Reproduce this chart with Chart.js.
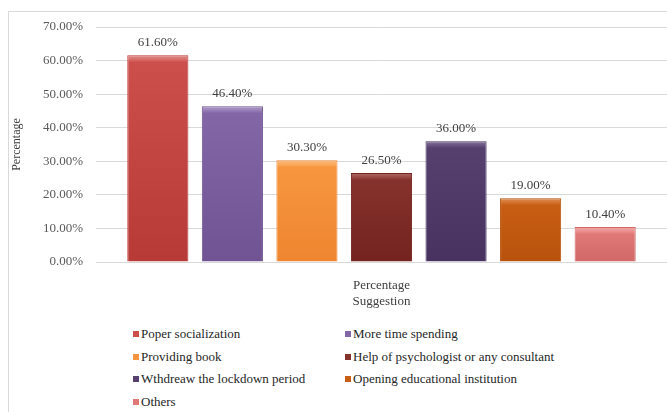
<!DOCTYPE html>
<html>
<head>
<meta charset="utf-8">
<script src="https://cdn.jsdelivr.net/npm/chart.js@4.4.1/dist/chart.umd.min.js"></script>
<style>
  body { margin: 0; background: #fff; }
  #wrap { position: relative; width: 667px; height: 412px; overflow: hidden; font-family: "Liberation Serif", "DejaVu Serif", "Noto Serif", serif; }
  #frame { position: absolute; left: 8px; top: 11px; width: 700px; height: 420px; border-left: 1px solid #d9d9d9; border-top: 1px solid #d9d9d9; }
  #chart { position: absolute; left: 0; top: 0; }
  #legend { position: absolute; left: 0; top: 326px; width: 667px; }
  .item { position: absolute; font-size: 13px; color: #262626; white-space: nowrap; line-height: 15px; }
  .item span.box { display: inline-block; width: 6px; height: 6px; margin-right: 2px; vertical-align: 1px; }
</style>
</head>
<body>
<div id="wrap">
  <div id="frame"></div>
  <canvas id="chart" width="667" height="310"></canvas>
  <div id="legend"></div>
</div>
<script>
// Suggestions and their share
const categories = ["Percentage"];
const suggestions = [
  "Poper socialization",
  "More time spending",
  "Providing book",
  "Help of psychologist or any consultant",
  "Wthdreaw the lockdown period",
  "Opening educational institution",
  "Others"
];
const values = [61.6, 46.4, 30.3, 26.5, 36.0, 19.0, 10.4];
const yTicks = [0, 10, 20, 30, 40, 50, 60, 70];

// highlight / mid / dark for each bar
const topColors = ["#d8706c", "#9a80b8", "#fbaa5e", "#9a4a44", "#6a5682", "#d47430", "#ea9290"];
const baseColors = ["#cd4f4c", "#8366a6", "#f7963f", "#86322c", "#56406e", "#c85e14", "#e07878"];
const darkColors = ["#b83a37", "#6f5392", "#ef8530", "#74231f", "#483260", "#b8520c", "#d26868"];

const font = "Liberation Serif, DejaVu Serif, serif";

function barGradient(i) {
  return (ctx) => {
    const chart = ctx.chart;
    if (!chart.chartArea || !chart.scales.y) return baseColors[i];
    const y = chart.scales.y;
    const top = y.getPixelForValue(values[i]);
    const bottom = y.getPixelForValue(0);
    const h = Math.max(bottom - top, 1);
    const g = chart.ctx.createLinearGradient(0, top, 0, bottom);
    g.addColorStop(0, lighten(topColors[i], 0.2));
    g.addColorStop(Math.min(4 / h, 0.5), topColors[i]);
    g.addColorStop(Math.min(7 / h, 0.6), baseColors[i]);
    g.addColorStop(1, darkColors[i]);
    return g;
  };
}

function lighten(hex, k) {
  const n = parseInt(hex.slice(1), 16);
  const f = (c) => Math.round(c + (255 - c) * k);
  return "rgb(" + f((n >> 16) & 255) + "," + f((n >> 8) & 255) + "," + f(n & 255) + ")";
}

const datasets = suggestions.map((label, i) => ({
  label: label,
  data: [values[i]],
  backgroundColor: barGradient(i),
  borderColor: darkColors[i],
  borderWidth: 1,
  categoryPercentage: 0.914,
  barPercentage: 0.82
}));

// value labels above each bar
const valueLabels = {
  id: "valueLabels",
  afterDatasetsDraw(chart) {
    const c = chart.ctx;
    c.save();
    c.font = "13px " + font;
    c.fillStyle = "#404040";
    c.textAlign = "center";
    c.textBaseline = "bottom";
    chart.data.datasets.forEach((ds, i) => {
      const bar = chart.getDatasetMeta(i).data[0];
      c.fillText(ds.data[0].toFixed(2) + "%", bar.x, bar.y - 6);
    });
    c.restore();
  }
};

new Chart(document.getElementById("chart"), {
  type: "bar",
  data: { labels: categories, datasets: datasets },
  plugins: [valueLabels],
  options: {
    responsive: false,
    devicePixelRatio: 1,
    animation: false,
    layout: { padding: { top: 27, left: 10, right: 0, bottom: 0 } },
    plugins: {
      legend: { display: false },
      tooltip: { enabled: false }
    },
    scales: {
      x: {
        grid: { display: false },
        border: { color: "#d9d9d9" },
        ticks: { font: { family: font, size: 13 }, color: "#404040", padding: 8 },
        title: { display: true, text: "Suggestion", font: { family: font, size: 13 }, color: "#404040", padding: 1 },
        afterFit: (s) => { s.height = 48; }
      },
      y: {
        min: 0,
        max: 70,
        afterBuildTicks: (s) => { s.ticks = yTicks.map((v) => ({ value: v })); },
        grid: { color: "#d9d9d9", drawTicks: false },
        border: { display: false },
        ticks: {
          font: { family: font, size: 13 },
          color: "#595959",
          padding: 13,
          callback: (v) => v.toFixed(2) + "%"
        },
        title: { display: true, text: "Percentage", font: { family: font, size: 12 }, color: "#404040", padding: 0 },
        afterFit: (s) => { s.width = 86; }
      }
    }
  }
});

// legend in two columns under the chart
const legend = document.getElementById("legend");
suggestions.forEach((label, i) => {
  const el = document.createElement("div");
  el.className = "item";
  el.style.left = (i % 2 === 0 ? 133 : 345) + "px";
  el.style.top = (Math.floor(i / 2) * 22.7) + "px";
  el.innerHTML = '<span class="box" style="background:' + baseColors[i] + '"></span>';
  el.appendChild(document.createTextNode(label));
  legend.appendChild(el);
});
</script>
</body>
</html>
